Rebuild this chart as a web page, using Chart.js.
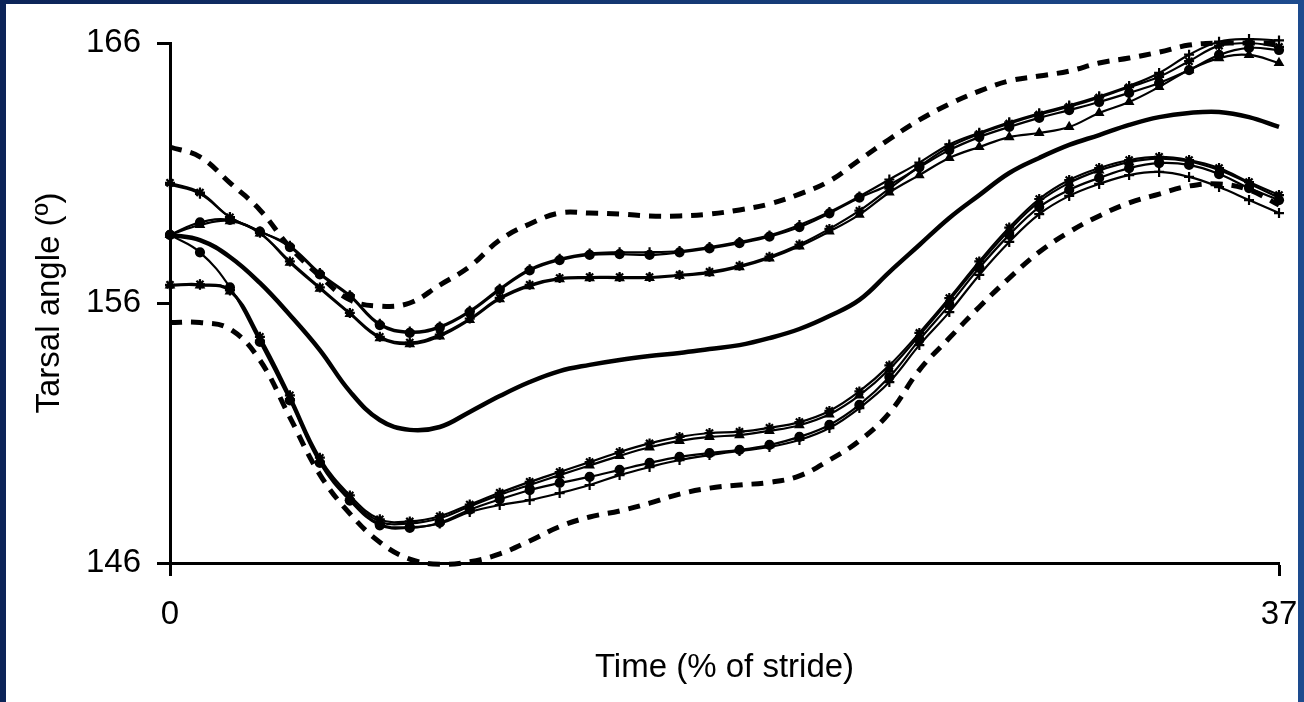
<!DOCTYPE html>
<html>
<head>
<meta charset="utf-8">
<script src="https://cdn.jsdelivr.net/npm/chart.js@4.4.1/dist/chart.umd.min.js"></script>
<style>
  html, body { margin: 0; padding: 0; }
  body {
    width: 1304px; height: 702px; overflow: hidden;
    background: linear-gradient(90deg, #0c2458 0%, #163c78 60%, #1d4b8e 100%);
    position: relative;
  }
  #panel {
    position: absolute; left: 6px; top: 4px; width: 1292px; height: 698px;
    background: #fff;
  }
  canvas { display: block; }
</style>
</head>
<body>
<div id="panel"><canvas id="c" width="1292" height="698"></canvas></div>
<script>
// Time axis, % of stride (one sample per percent)
const timePct = [0,1,2,3,4,5,6,7,8,9,10,11,12,13,14,15,16,17,18,19,20,21,22,23,24,25,26,27,28,29,30,31,32,33,34,35,36,37];

// Tick values shown on the axes
const xTickValues = [0, 37];
const yTickValues = [146, 156, 166];

// Mean tarsal angle and mean ± SD band (degrees)
const meanAngle = [158.62,158.42,157.77,156.77,155.54,154.19,152.6,151.5,151.12,151.23,151.81,152.42,152.96,153.38,153.62,153.81,153.96,154.08,154.23,154.38,154.65,155.0,155.5,156.12,157.19,158.23,159.27,160.15,161.0,161.58,162.08,162.46,162.85,163.15,163.31,163.35,163.15,162.77];
const upperSD = [162.0,161.62,160.62,159.58,158.15,157.04,156.12,155.88,156.0,156.69,157.4,158.42,159.04,159.46,159.46,159.42,159.35,159.35,159.42,159.58,159.81,160.19,160.69,161.5,162.3,163.04,163.65,164.15,164.54,164.73,164.92,165.23,165.42,165.65,165.92,166.0,166.0,166.0];
const lowerSD = [155.25,155.25,155.0,153.8,151.6,149.4,147.9,146.8,146.15,145.95,146.05,146.35,146.85,147.4,147.77,148.0,148.3,148.65,148.88,149.0,149.1,149.35,149.96,150.7,151.77,153.42,154.65,155.85,156.96,157.96,158.73,159.35,159.85,160.19,160.5,160.58,160.35,159.77];

// Upper limit curves, one per marker
const upPlus = [160.55,160.2,159.3,158.75,158.2,157.15,156.3,155.2,154.9,155.1,155.7,156.55,157.3,157.7,157.9,157.95,157.95,158.0,158.15,158.35,158.6,159.0,159.5,160.1,160.75,161.4,162.1,162.55,162.95,163.3,163.6,163.95,164.35,164.85,165.55,166.05,166.15,166.1];
const upCircle = [158.62,159.1,159.2,158.75,158.15,157.1,156.25,155.15,154.85,155.05,155.65,156.5,157.25,157.65,157.85,157.88,157.85,157.95,158.1,158.3,158.55,158.92,159.45,160.05,160.55,161.22,161.88,162.38,162.77,163.12,163.42,163.73,164.08,164.46,164.96,165.54,165.81,165.73];
const upStar = [160.62,160.25,159.3,158.7,157.6,156.6,155.62,154.7,154.48,154.78,155.4,156.2,156.7,156.96,157.0,157.0,157.0,157.08,157.2,157.43,157.78,158.25,158.85,159.55,160.4,161.25,162.0,162.5,162.9,163.25,163.55,163.9,164.3,164.7,165.3,165.9,166.0,165.85];
const upTri = [158.62,159.0,159.15,158.68,157.55,156.55,155.58,154.65,154.42,154.72,155.35,156.15,156.65,156.92,156.96,156.96,156.97,157.05,157.15,157.38,157.72,158.18,158.75,159.4,160.25,160.92,161.58,162.0,162.38,162.54,162.77,163.31,163.73,164.31,164.96,165.42,165.54,165.23];

// Lower limit curves, one per marker
const lowStar = [156.7,156.72,156.5,154.7,152.45,150.05,148.6,147.68,147.6,147.8,148.25,148.7,149.12,149.5,149.88,150.27,150.6,150.85,151.0,151.05,151.2,151.42,151.85,152.6,153.6,154.85,156.19,157.6,158.9,160.0,160.73,161.19,161.5,161.62,161.5,161.19,160.65,160.15];
const lowTri = [156.68,156.68,156.45,154.6,152.35,149.95,148.5,147.6,147.52,147.72,148.18,148.62,149.0,149.38,149.75,150.12,150.45,150.7,150.85,150.92,151.08,151.3,151.72,152.45,153.45,154.75,156.1,157.5,158.8,159.9,160.62,161.1,161.42,161.55,161.45,161.12,160.6,160.05];
const lowCircle = [158.62,157.95,156.6,154.5,152.25,149.85,148.4,147.45,147.35,147.55,148.05,148.45,148.8,149.08,149.31,149.58,149.85,150.08,150.23,150.35,150.54,150.85,151.31,152.08,153.15,154.58,155.92,157.35,158.62,159.69,160.35,160.81,161.19,161.38,161.31,160.96,160.42,159.96];
const lowPlus = [156.68,156.7,156.48,154.55,152.3,149.9,148.45,147.5,147.38,147.52,147.96,148.23,148.42,148.69,149.0,149.38,149.69,149.96,150.15,150.31,150.46,150.73,151.19,151.96,152.96,154.38,155.65,157.08,158.35,159.42,160.12,160.58,160.92,161.04,160.85,160.46,159.96,159.46];

const pts = arr => arr.map((v, i) => ({ x: timePct[i], y: v }));
const FONT = '"Liberation Sans", Arial, Helvetica, sans-serif';

function markerSeries(label, arr, style, radius) {
  return {
    label, data: pts(arr),
    borderColor: '#000', borderWidth: 2.2,
    pointStyle: style, pointRadius: radius,
    pointBackgroundColor: '#000', pointBorderColor: '#000', pointBorderWidth: 2.2,
    tension: 0.4, clip: 10
  };
}

const datasets = [
  { label: 'Mean', data: pts(meanAngle), borderColor: '#000', borderWidth: 4.5, pointRadius: 0, tension: 0.4, clip: 10 },
  { label: 'Mean + SD', data: pts(upperSD), borderColor: '#000', borderWidth: 5, borderDash: [12, 9], pointRadius: 0, tension: 0.4, clip: 10 },
  { label: 'Mean - SD', data: pts(lowerSD), borderColor: '#000', borderWidth: 5, borderDash: [12, 9], pointRadius: 0, tension: 0.4, clip: 10 },
  markerSeries('Upper +', upPlus, 'cross', 5),
  markerSeries('Upper ●', upCircle, 'circle', 4),
  markerSeries('Upper ✱', upStar, 'star', 5),
  markerSeries('Upper ▲', upTri, 'triangle', 4),
  markerSeries('Lower ✱', lowStar, 'star', 5),
  markerSeries('Lower ▲', lowTri, 'triangle', 4),
  markerSeries('Lower ●', lowCircle, 'circle', 4),
  markerSeries('Lower +', lowPlus, 'cross', 5)
];

new Chart(document.getElementById('c'), {
  type: 'line',
  data: { datasets },
  options: {
    responsive: false,
    animation: false,
    devicePixelRatio: 1,
    layout: { padding: { left: 0, top: 39, right: 19, bottom: 0 } },
    plugins: { legend: { display: false }, tooltip: { enabled: false } },
    scales: {
      x: {
        type: 'linear', min: 0, max: 37,
        afterBuildTicks: s => { s.ticks = xTickValues.map(v => ({ value: v })); },
        afterFit: s => { s.height = 139; s.paddingLeft = 0; s.paddingRight = 0; },
        grid: { drawOnChartArea: false, tickLength: 13, tickWidth: 3, tickColor: '#000' },
        border: { color: '#000', width: 3 },
        ticks: { color: '#000', font: { family: FONT, size: 33 }, padding: 19, maxRotation: 0 },
        title: { display: true, text: 'Time (% of stride)', color: '#000',
                 font: { family: FONT, size: 33 }, padding: { top: 0, bottom: 14 } }
      },
      y: {
        type: 'linear', min: 146, max: 166,
        afterBuildTicks: s => { s.ticks = yTickValues.map(v => ({ value: v })); },
        afterFit: s => { s.width = 164; s.paddingTop = 0; s.paddingBottom = 0; },
        grid: { drawOnChartArea: false, tickLength: 13, tickWidth: 3, tickColor: '#000' },
        border: { color: '#000', width: 3 },
        ticks: { color: '#000', font: { family: FONT, size: 33 }, padding: 16 },
        title: { display: true, text: 'Tarsal angle (º)', color: '#000',
                 font: { family: FONT, size: 33 }, padding: { top: 24, bottom: 0 } }
      }
    }
  }
});
</script>
</body>
</html>
